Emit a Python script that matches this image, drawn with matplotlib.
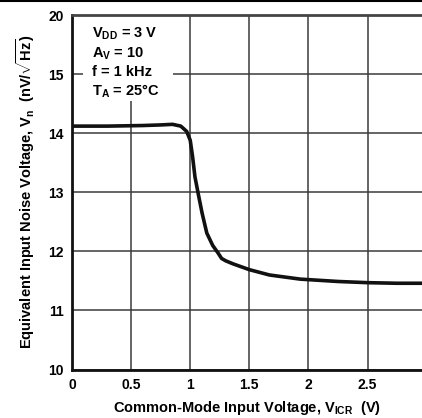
import matplotlib
matplotlib.use('Agg')
import matplotlib.pyplot as plt
from matplotlib.lines import Line2D
from matplotlib.patches import Rectangle

# 데이터
v_icr = [0.0, 0.3, 0.6, 0.75, 0.85, 0.92, 0.97, 1.0, 1.02, 1.04, 1.07, 1.1, 1.14,
         1.19, 1.236, 1.265, 1.3, 1.36, 1.5, 1.67, 1.93, 2.25, 2.5, 2.75, 2.96]
vn = [14.12, 14.12, 14.13, 14.14, 14.15, 14.12, 14.03, 13.88, 13.6, 13.26, 12.95, 12.65, 12.31,
      12.1, 11.97, 11.88, 11.84, 11.79, 11.69, 11.6, 11.53, 11.49, 11.47, 11.46, 11.46]

x_ticks = [0, 0.5, 1, 1.5, 2, 2.5]
x_labels = ['0', '0.5', '1', '1.5', '2', '2.5']
# 위쪽 눈금은 15 -> 20 으로 축이 끊겨 있음
y_ticks = [10, 11, 12, 13, 14, 15, 16]
y_labels = ['10', '11', '12', '13', '14', '15', '20']

notes = [r'V$_{\mathbf{DD}}$ = 3 V', r'A$_{\mathbf{V}}$ = 10', 'f = 1 kHz',
         r'T$_{\mathbf{A}}$ = 25°C']

plt.rcParams['font.family'] = ['Liberation Sans', 'DejaVu Sans']
plt.rcParams['mathtext.fontset'] = 'custom'
plt.rcParams['mathtext.rm'] = 'Liberation Sans:bold'
plt.rcParams['mathtext.it'] = 'Liberation Sans:bold'
plt.rcParams['mathtext.bf'] = 'Liberation Sans:bold'

fig = plt.figure(figsize=(4.22, 4.18), dpi=100)
ax = fig.add_axes([0.1706, 0.116, 0.8294, 0.848])

ax.plot(v_icr, vn, color='#111111', lw=2.6, solid_capstyle='round', solid_joinstyle='round', zorder=3)

ax.set_xlim(0, 2.96)
ax.set_ylim(10, 16)
ax.set_xticks(x_ticks)
ax.set_xticklabels(x_labels)
ax.set_yticks(y_ticks)
ax.set_yticklabels(y_labels)
ax.tick_params(length=0, labelsize=10, pad=6)
for lab in ax.get_xticklabels() + ax.get_yticklabels():
    lab.set_fontweight('bold')

ax.grid(True, color='#3a3a3a', lw=1.1, zorder=0)
ax.set_axisbelow(True)

for side in ['left', 'bottom']:
    ax.spines[side].set_linewidth(2)
    ax.spines[side].set_color('#111111')
ax.spines['top'].set_linewidth(2)
ax.spines['top'].set_color('#444444')
ax.spines['right'].set_visible(False)

ax.set_xlabel(r'Common-Mode Input Voltage, V$_{\mathbf{ICR}}$  (V)',
              fontsize=10.5, fontweight='bold', labelpad=5)
ax.set_ylabel(r'Equivalent Input Noise Voltage, V$_\mathbf{n}$  (nV/$\sqrt{\mathbf{Hz}}$)',
              fontsize=10.5, fontweight='bold', labelpad=8)

# 조건 표시 박스 (흰 배경이 격자를 가림)
ax.add_patch(Rectangle((0.093, 14.55), 0.76, 1.45, facecolor='white', edgecolor='none',
                       zorder=2))
for i, note in enumerate(notes):
    ax.text(0.17, 15.61 - 0.325 * i, note, va='baseline', ha='left',
            fontsize=10.5, fontweight='bold', zorder=4)

# 문서 상단 선
fig.add_artist(Line2D([0, 1], [0.997, 0.997], color='black', lw=1.5,
                      transform=fig.transFigure))

fig.savefig('out.png', dpi=100)
